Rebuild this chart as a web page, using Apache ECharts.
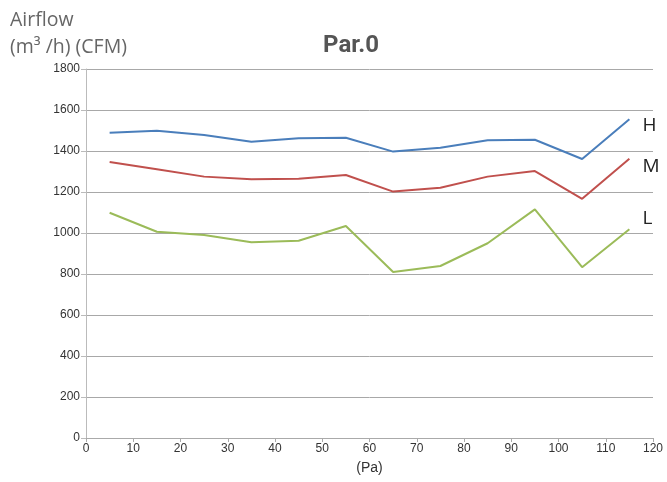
<!DOCTYPE html>
<html>
<head>
<meta charset="utf-8">
<script src="https://cdn.jsdelivr.net/npm/echarts@6/dist/echarts.min.js"></script>
<style>
  html, body { margin: 0; padding: 0; background: #fff; }
  #chart { width: 667px; height: 482px; }
</style>
</head>
<body>
<div id="chart"></div>
<script>
// Static pressure (Pa) at each measured point
const pressure = [5, 15, 25, 35, 45, 55, 65, 75, 85, 95, 105, 115];

// Airflow per fan speed
const speedH = [1489, 1499, 1478, 1445, 1462, 1465, 1397, 1416, 1452, 1455, 1361, 1555];
const speedM = [1346, 1311, 1275, 1262, 1265, 1283, 1202, 1221, 1275, 1302, 1167, 1362];
const speedL = [1099, 1006, 990, 955, 962, 1034, 810, 839, 950, 1115, 833, 1018];

const seriesNames = ['H', 'M', 'L'];
const seriesColors = ['#4a7ebb', '#c0504d', '#9bbb59'];
const endLabelOffsets = [[5, 6], [5, 8], [5, -11]];

function pairs(values) {
  return pressure.map((p, i) => [p, values[i]]);
}

const chart = echarts.init(document.getElementById('chart'));

chart.setOption({
  animation: false,
  title: {
    text: 'Par.0',
    left: 346,
    top: 29,
    textAlign: 'center',
    textStyle: { fontFamily: 'Roboto', fontSize: 24, fontWeight: 'bold', color: '#555' }
  },
  graphic: [
    {
      type: 'text',
      left: 10,
      top: 7,
      style: {
        text: 'Airflow\n(m³ /h) (CFM)',
        fontFamily: 'Open Sans',
        fontSize: 19.5,
        lineHeight: 27,
        fill: '#666'
      }
    }
  ],
  grid: { left: 86, right: 14, top: 69, bottom: 44 },
  xAxis: {
    type: 'value',
    min: 0,
    max: 120,
    interval: 10,
    name: '(Pa)',
    nameLocation: 'middle',
    nameGap: 23,
    nameTextStyle: { fontFamily: 'Liberation Sans', fontSize: 14, color: '#333' },
    axisLine: { lineStyle: { color: '#aaa', width: 1 } },
    axisTick: { show: true, length: 4, lineStyle: { color: '#aaa' } },
    axisLabel: { fontFamily: 'Liberation Sans', fontSize: 12, color: '#333', margin: 5 },
    splitLine: { show: false }
  },
  yAxis: {
    type: 'value',
    min: 0,
    max: 1800,
    interval: 200,
    axisLine: { show: true, lineStyle: { color: '#bbb', width: 1 } },
    axisTick: { show: true, length: 5, lineStyle: { color: '#bbb' } },
    axisLabel: {
      fontFamily: 'Liberation Sans',
      fontSize: 12,
      color: '#333',
      margin: 6,
      formatter: v => String(v)
    },
    splitLine: { show: true, lineStyle: { color: '#a8a8a8', width: 1 } }
  },
  series: [speedH, speedM, speedL].map((vals, i) => ({
    name: seriesNames[i],
    type: 'line',
    data: pairs(vals),
    symbol: 'none',
    lineStyle: { color: seriesColors[i], width: 2 },
    endLabel: {
      show: true,
      formatter: seriesNames[i],
      offset: endLabelOffsets[i],
      fontFamily: 'Open Sans',
      fontSize: 19,
      color: '#222'
    }
  }))
});
</script>
</body>
</html>
